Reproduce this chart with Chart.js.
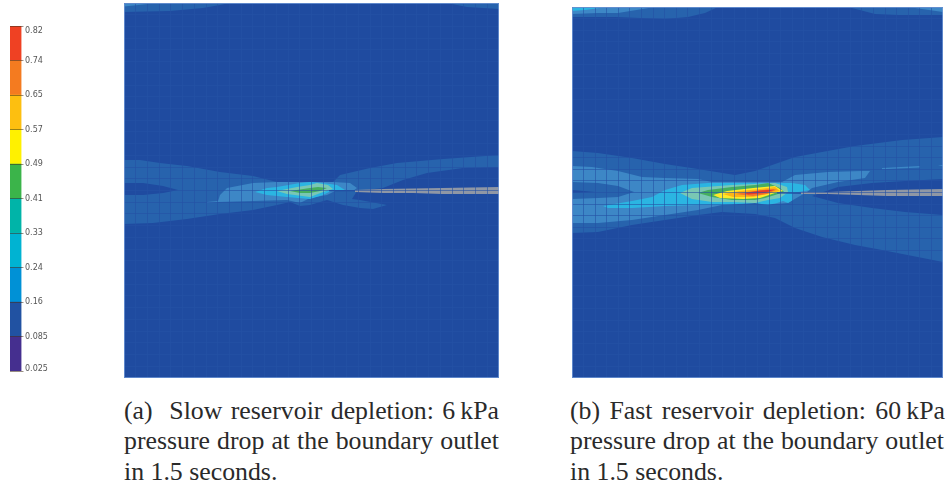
<!DOCTYPE html>
<html>
<head>
<meta charset="utf-8">
<script src="https://cdn.jsdelivr.net/npm/chart.js@4"></script>
<style>
    html, body { margin: 0; padding: 0; background: #fff; width: 950px; height: 488px; overflow: hidden; }
    canvas { position: absolute; }
    #barChart { left: 0; top: 16px; filter: blur(0.4px); }
    #slowChart { left: 124px; top: 3px; outline: 1px solid rgba(120, 160, 220, 0.7); outline-offset: -1px; filter: blur(0.5px); }
    #fastChart { left: 572px; top: 7px; outline: 1px solid rgba(120, 160, 220, 0.7); outline-offset: -1px; filter: blur(0.5px); }
    .cap { position: absolute; height: 30px; font: 25.8px/30px 'Liberation Serif', serif; color: #2a2a2a; white-space: pre; }
    .just { text-align-last: justify; white-space: normal; }
</style>
</head>
<body>
<canvas id="barChart" width="70" height="360"></canvas>
<canvas id="slowChart" width="375" height="375"></canvas>
<canvas id="fastChart" width="371" height="371"></canvas>

<div class="cap just" style="left:124px;top:396px;width:375px">(a)&nbsp; Slow reservoir depletion: 6&#8201;kPa</div>
<div class="cap just" style="left:124px;top:426px;width:375px">pressure drop at the boundary outlet</div>
<div class="cap" style="left:124px;top:457px">in 1.5 seconds.</div>
<div class="cap just" style="left:570px;top:396px;width:375px">(b) Fast reservoir depletion: 60&#8201;kPa</div>
<div class="cap just" style="left:570px;top:426px;width:374px">pressure drop at the boundary outlet</div>
<div class="cap" style="left:570px;top:457px">in 1.5 seconds.</div>

<script>
// legend levels, bottom to top
const levelLabels = ['0.025', '0.085', '0.16', '0.24', '0.33', '0.41', '0.49', '0.57', '0.65', '0.74', '0.82'];
const labelPositions = [0.07, 1, 2, 3, 4, 5, 6, 7, 8, 9, 9.86];
const barColors = ['#452f8f', '#2152a2', '#0091d6', '#00b3d2', '#00b4a8', '#3bb44a', '#fff100', '#fdbf10', '#f47b20', '#ef4123'];
const barSizes = [1, 1, 1, 1, 1, 1, 1, 1, 1, 1];

const C_BG = '#1f4ba0', C_1 = '#2763ad', C_2 = '#3d87c6', C_3 = '#2bb5e2', C_4 = '#79c7b4',
    C_5 = '#45ae5f', C_6 = '#ffe92a', C_7 = '#fdb515', C_8 = '#f2742a', C_9 = '#e33a2e', C_GRAY = '#8f97a5';

// slow case contours, x/y across the 375 wide domain
const slowBase = [[0, 0], [375, 0], [375, 375], [0, 375]];
const slowTopLeft = [[0, 0], [106, 0], [96, 2], [79, 5], [46, 8], [0, 9]];
const slowTopRight = [[323, 0], [375, 0], [375, 6], [343, 4]];
const slowTopInner = [[0, 1], [24, 1], [0, 3.5]];
const slowBand1 = [[0, 157], [16, 157], [36, 160], [63, 163], [96, 169], [129, 173], [153, 179], [209, 179], [216, 172], [246, 165], [273, 160], [319, 156], [375, 152], [375, 164], [339, 165], [303, 170], [279, 177], [259, 185], [233, 188], [228, 196], [236, 197], [263, 202], [249, 206], [236, 205], [219, 202], [203, 197], [186, 202], [176, 203], [166, 199], [153, 202], [129, 207], [96, 211], [63, 216], [29, 220], [0, 221]];
const slowHole = [[0, 180], [19, 180], [39, 183], [54, 187], [39, 190], [19, 192], [0, 192]];
const slowBand2 = [[83, 199], [94, 198], [96, 192], [103, 185], [129, 180], [153, 179], [209, 179], [226, 180], [233, 185], [229, 188], [211, 188], [203, 192], [186, 195], [176, 200], [163, 197], [129, 198], [94, 199], [83, 200]];
const slowBand3 = [[131, 189], [143, 185], [153, 184], [176, 180], [186, 179], [199, 180], [213, 182], [221, 187], [209, 187], [199, 192], [186, 196], [163, 194], [143, 192]];
const slowBand4 = [[153, 188], [173, 184], [186, 182], [193, 180], [204, 182], [209, 186], [199, 189], [186, 194], [163, 191]];
const slowBand5 = [[166, 188], [186, 185], [194, 184], [203, 185], [196, 188], [186, 190], [176, 190]];
const slowTip = [[205, 187], [231, 187], [231, 188.2], [205, 188.2]];
const slowCrack = [[231, 187], [259, 186], [289, 185.5], [318, 185], [375, 184], [375, 191], [318, 191], [289, 190], [259, 190], [231, 189]];

// fast case contours, 371 wide domain
const fastBase = [[0, 0], [371, 0], [371, 371], [0, 371]];
const fastTopLeft = [[0, 0], [146, 0], [133, 6], [116, 10], [93, 12], [43, 10], [0, 10]];
const fastTopRight = [[276, 0], [371, 0], [371, 8], [326, 8], [303, 7]];
const fastTopLeft2 = [[0, 0], [83, 0], [46, 6], [26, 6], [0, 7]];
const fastTopRight2 = [[336, 0], [371, 0], [371, 5]];
const fastTopLeft3 = [[0, 0], [35, 0], [13, 3], [0, 4]];
const fastBand1 = [[0, 144], [26, 146], [60, 151], [93, 157], [126, 162], [163, 168], [183, 164], [223, 150], [250, 145], [283, 139], [330, 133], [371, 130], [371, 255], [310, 243], [283, 238], [250, 230], [223, 221], [203, 211], [183, 207], [150, 205], [126, 208], [93, 213], [60, 218], [26, 225], [0, 226]];
const fastWedge = [[240, 189], [266, 180], [300, 176], [333, 174], [371, 172], [371, 208], [333, 205], [300, 201], [266, 196]];
const fastBand2 = [[0, 159], [20, 160], [46, 164], [70, 170], [93, 171], [126, 172], [140, 175], [183, 175], [210, 175], [223, 168], [256, 165], [290, 164], [298, 164], [293, 171], [266, 175], [240, 181], [235, 185], [221, 193], [216, 196], [203, 197], [183, 196], [150, 198], [126, 203], [93, 208], [60, 213], [26, 216], [0, 216]];
const fastHole1 = [[0, 175], [26, 176], [46, 179], [62, 185], [46, 190], [26, 191], [0, 192]];
const fastHole2 = [[0, 183], [23, 185], [0, 186]];
const fastSliver1 = [[310, 161], [348, 159], [348, 160.5], [310, 162.3]];
const fastSliver2 = [[366, 158.5], [371, 158], [371, 159.3]];
const fastBand3 = [[31, 199], [60, 194], [80, 190], [93, 183], [110, 178], [136, 176], [183, 176], [220, 176], [233, 178], [238, 183], [221, 186], [221, 193], [216, 196], [211, 194], [205, 196], [196, 198], [183, 196], [150, 198], [126, 198], [93, 199], [60, 201], [36, 201]];
const fastBand4 = [[108, 186], [120, 181], [133, 180], [160, 178], [203, 176], [215, 180], [216, 185], [208, 191], [196, 193], [183, 196], [160, 195], [140, 195], [120, 192]];
const fastBand5 = [[126, 186], [136, 183], [160, 180], [183, 178], [196, 176], [208, 181], [212, 185], [203, 188], [193, 191], [183, 193], [160, 193], [140, 190]];
const fastBand6 = [[141, 188], [155, 184], [181, 181], [203, 179], [211, 184], [203, 186], [188, 191], [171, 192], [148, 191]];
const fastBand7 = [[151, 187], [168, 184], [188, 182], [203, 180], [208, 184], [195, 187], [181, 190], [161, 190]];
const fastBand8 = [[163, 187], [175, 185], [195, 182.5], [205, 182.5], [195, 187], [181, 189]];
const fastBand9 = [[173, 186], [188, 183.5], [203, 182.5], [193, 186], [176, 187.5]];
const fastTip = [[205, 185.3], [229, 185.5], [229, 186.7], [205, 186.5]];
const fastCrack = [[229, 185], [256, 185], [286, 184], [315, 183], [371, 182], [371, 189], [315, 189], [286, 188], [256, 187], [229, 187]];

const MESH_CELLS = 32;

function contourChart(id, size, layers) {
    // the list runs from back to front, chart.js draws low order last
    const datasets = layers.map(function(layer, i) {
        return {
            data: layer[0].map(function(p) { return { x: p[0], y: p[1] }; }),
            backgroundColor: layer[1],
            borderWidth: 0,
            showLine: true,
            fill: 'shape',
            pointRadius: 0,
            order: layers.length - i
        };
    });
    const meshAxis = function(reverse) {
        return {
            type: 'linear',
            min: 0,
            max: size,
            reverse: reverse,
            border: { display: false },
            grid: { color: 'rgba(36, 82, 165, 0.6)', lineWidth: 1, drawTicks: false, z: 1 },
            ticks: { display: false, stepSize: size / MESH_CELLS, autoSkip: false }
        };
    };
    return new Chart(document.getElementById(id), {
        type: 'scatter',
        data: { datasets: datasets },
        options: {
            responsive: false,
            animation: false,
            layout: { padding: 0 },
            plugins: { legend: { display: false }, tooltip: { enabled: false } },
            scales: { x: meshAxis(false), y: meshAxis(true) }
        }
    });
}

document.addEventListener('DOMContentLoaded', function() {
    new Chart(document.getElementById('barChart'), {
        type: 'bar',
        data: {
            labels: [''],
            datasets: barColors.map(function(color, i) {
                return { data: [barSizes[i]], backgroundColor: color, borderWidth: 0, barPercentage: 1, categoryPercentage: 1, yAxisID: 'y' };
            })
        },
        options: {
            responsive: false,
            animation: false,
            layout: { padding: { left: 10, top: 10, bottom: 4 } },
            plugins: { legend: { display: false }, tooltip: { enabled: false } },
            scales: {
                x: { stacked: true, display: false },
                y: {
                    stacked: true,
                    position: 'right',
                    min: 0,
                    max: 10,
                    border: { display: false },
                    grid: { color: 'rgba(70, 50, 30, 0.55)', tickLength: 2, z: 1 },
                    ticks: { display: false, stepSize: 1 },
                    afterFit: function(axis) { axis.width = 3.5; }
                },
                levels: {
                    position: 'right',
                    min: 0,
                    max: 10,
                    border: { display: false },
                    grid: { display: false, drawTicks: false },
                    ticks: {
                        autoSkip: false,
                        padding: 0,
                        color: '#555',
                        font: { family: 'DejaVu Sans', size: 8 },
                        callback: function(value, i) { return levelLabels[i]; }
                    },
                    afterBuildTicks: function(axis) {
                        axis.ticks = labelPositions.map(function(v) { return { value: v }; });
                    },
                    afterFit: function(axis) { axis.width = 45; }
                }
            }
        }
    });

    contourChart('slowChart', 375, [
        [slowBase, C_BG], [slowTopLeft, C_1], [slowTopRight, C_1], [slowTopInner, C_2],
        [slowBand1, C_1], [slowHole, C_BG], [slowBand2, C_2], [slowBand3, C_3], [slowBand4, C_4], [slowBand5, C_5],
        [slowTip, C_BG], [slowCrack, C_GRAY]
    ]);

    contourChart('fastChart', 371, [
        [fastBase, C_BG], [fastTopLeft, C_1], [fastTopRight, C_1], [fastTopLeft2, C_2], [fastTopRight2, C_2], [fastTopLeft3, C_3],
        [fastBand1, C_1], [fastWedge, C_BG], [fastBand2, C_2], [fastHole1, C_1], [fastHole2, C_BG],
        [fastSliver1, C_2], [fastSliver2, C_2],
        [fastBand3, C_3], [fastBand4, C_4], [fastBand5, C_5], [fastBand6, C_6], [fastBand7, C_7], [fastBand8, C_8], [fastBand9, C_9],
        [fastTip, C_BG], [fastCrack, C_GRAY]
    ]);
});
</script>
</body>
</html>
